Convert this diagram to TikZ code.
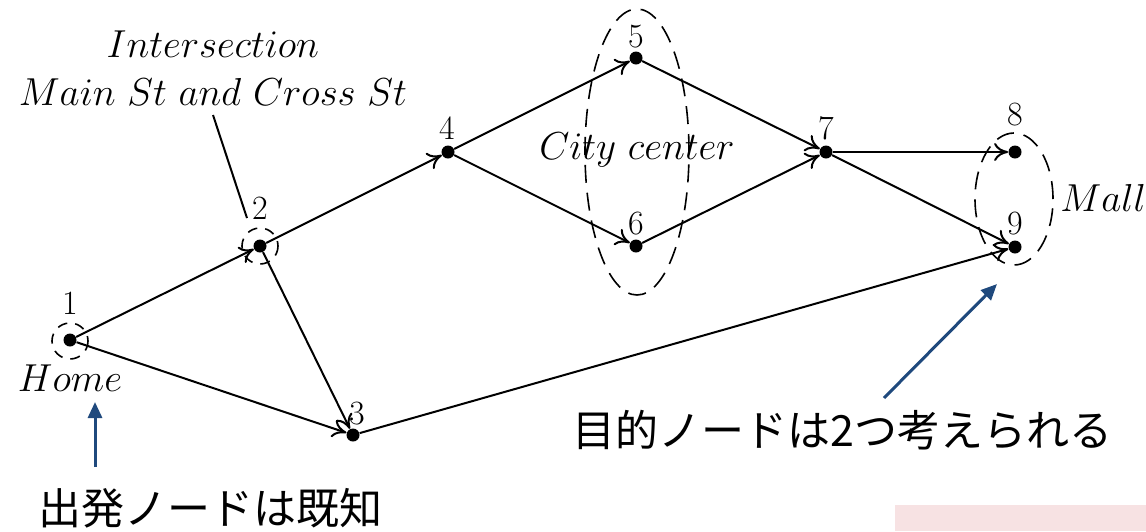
\documentclass[tikz,border=0pt]{standalone}
\usepackage{fix-cm}
\usepackage{fontspec}
\newfontfamily\cjk{Noto Sans CJK JP}
\usetikzlibrary{arrows.meta,shapes.geometric}
\definecolor{navy}{RGB}{31,73,125}
\definecolor{pinkbg}{RGB}{247,226,227}
\begin{document}
\begin{tikzpicture}[x=0.5pt,y=-0.5pt,
  dot/.style={circle,fill=black,inner sep=0pt,minimum size=6.5pt},
  num/.style={font=\fontsize{17}{17}\selectfont,inner sep=0pt},
  edge/.style={line width=1pt,-{To[length=7pt,width=9pt]}},
  grp/.style={draw,line width=0.8pt,dash pattern=on 9pt off 5pt},
  smallgrp/.style={draw,line width=0.8pt,dash pattern=on 5pt off 4pt,dash phase=2.5pt},
  lbl/.style={font=\fontsize{19.5}{22}\selectfont,inner sep=0pt},
  note/.style={font=\cjk\fontsize{21.5}{24}\selectfont,inner sep=0pt},
  pointer/.style={draw=navy,line width=1.5pt,-{Triangle[length=8pt,width=7pt]}}]
\useasboundingbox (0,0) rectangle (1146,531);
\fill[pinkbg] (895,505) rectangle (1146,531);

% vertices
\node[dot] (n1) at (70,340) {};
\node[dot] (n2) at (260,246) {};
\node[dot] (n3) at (353,435) {};
\node[dot] (n4) at (448,152) {};
\node[dot] (n5) at (636,58) {};
\node[dot] (n6) at (636,246) {};
\node[dot] (n7) at (826,152) {};
\node[dot] (n8) at (1015,152) {};
\node[dot] (n9) at (1015,247) {};

% number labels
\node[num] (l1) at (70,303) {1};
\node[num] (l2) at (260,208) {2};
\node[num] (l3) at (357,414) {3};
\node[num] (l4) at (447,128) {4};
\node[num] (l5) at (636,37) {5};
\node[num] (l6) at (636,224) {6};
\node[num] (l7) at (826,128) {7};
\node[num] (l8) at (1015,115) {8};
\node[num] (l9) at (1015,224) {9};

% groups
\node[circle,smallgrp,minimum size=18pt,inner sep=0pt] (g1) at (70,341) {};
\node[circle,smallgrp,minimum size=18pt,inner sep=0pt] (g2) at (260,246) {};
\node[ellipse,grp,minimum width=52pt,minimum height=143pt,inner sep=0pt] (city) at (637,152) {};
\node[ellipse,grp,minimum width=39pt,minimum height=66pt,inner sep=0pt] (mall) at (1014,199) {};

% edges
\draw[edge] (n1) -- (n2);
\draw[edge] (n1) -- (n3);
\draw[edge] (n2) -- (n3);
\draw[edge] (n2) -- (n4);
\draw[edge] (n4) -- (n5);
\draw[edge] (n4) -- (n6);
\draw[edge] (n5) -- (n7);
\draw[edge] (n6) -- (n7);
\draw[edge] (n7) -- (n8);
\draw[edge] (n7) -- (n9);
\draw[edge] (n3) -- (n9);

% texts
\node[lbl] (isec1) at (213,44) {$Intersection$};
\node[lbl] (isec2) at (213,92) {$Main\ St\ and\ Cross\ St$};
\coordinate (leadA) at (213,115);
\coordinate (leadB) at (247,218);
\draw[line width=1pt] (leadA) -- (leadB);
\node[lbl] (citytxt) at (637,150) {$City\ center$};
\node[lbl,anchor=west] (malltxt) at (1060,198) {$Mall$};
\node[lbl] (home) at (70,378) {$Home$};

% Japanese notes
\node[note,anchor=base west] (start) at (38,524) {出発ノードは既知};
\node[note,anchor=base west] (goal) at (572,446) {目的ノードは2つ考えられる};
\coordinate (pA1) at (95,467);
\coordinate (pA2) at (95,402);
\draw[pointer] (pA1) -- (pA2);
\coordinate (pB1) at (884,398);
\coordinate (pB2) at (997,284);
\draw[pointer] (pB1) -- (pB2);
\end{tikzpicture}
\end{document}
